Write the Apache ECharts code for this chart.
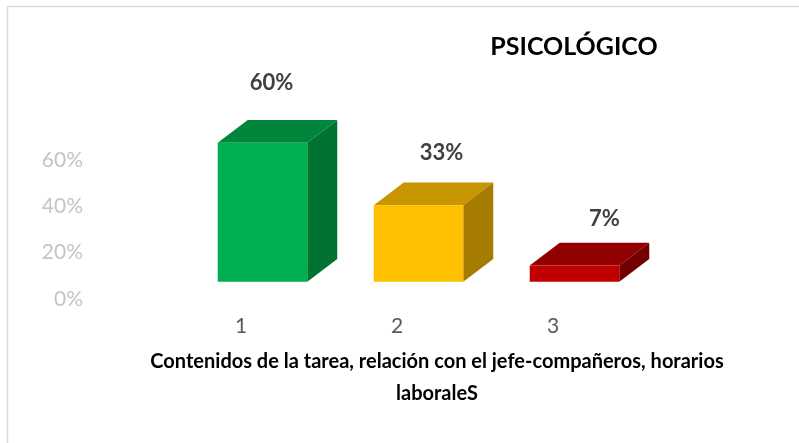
<!DOCTYPE html>
<html>
<head>
<meta charset="utf-8">
<script src="https://cdn.jsdelivr.net/npm/echarts@6/dist/echarts.min.js"></script>
<style>
html,body{margin:0;padding:0;background:#fff;}
#chart{width:799px;height:443px;}
</style>
</head>
<body>
<div id="chart"></div>
<script>
// ---- data ----
const categories = ['1', '2', '3'];
const values = [60, 33, 7];
const yTickMax = 60;
const yTickStep = 20;
const titleText = 'PSICOLÓGICO';
const xTitleLines = ['Contenidos de la tarea, relación con el jefe-compañeros, horarios', 'laboraleS'];

// ---- styles ----
const FACE_COLORS = [
  { front: '#00B050', top: '#00863C', side: '#007332' },
  { front: '#FFC000', top: '#C89600', side: '#A67C00' },
  { front: '#C00000', top: '#930000', side: '#720000' }
];
const LABEL_NUDGE = [[9, -60], [23, -52], [30, -47]];
const FONT = 'Lato, "Liberation Sans", sans-serif';
const DEPTH_X = 30, DEPTH_Y = -22.7, FRONT_DX = 21.5, FRONT_DY = -17.3, BAR_RATIO = 0.574;

const chart = echarts.init(document.getElementById('chart'), null, { renderer: 'canvas' });

function renderItem(params, api) {
  const idx = api.value(0);
  const val = api.value(1);
  const base = api.coord([idx, 0]);
  const top = api.coord([idx, val]);
  const w = api.size([1, 0])[0] * BAR_RATIO;
  const cx = base[0] + FRONT_DX;
  const x0 = cx - w / 2, x1 = cx + w / 2;
  const yT = top[1] + FRONT_DY, yB = base[1] + FRONT_DY;
  const c = FACE_COLORS[idx];
  const nudge = LABEL_NUDGE[idx];
  return {
    type: 'group',
    children: [
      { type: 'polygon', shape: { points: [[x0, yT], [x1, yT], [x1 + DEPTH_X, yT + DEPTH_Y], [x0 + DEPTH_X, yT + DEPTH_Y]] }, style: { fill: c.top } },
      { type: 'polygon', shape: { points: [[x1, yT], [x1 + DEPTH_X, yT + DEPTH_Y], [x1 + DEPTH_X, yB + DEPTH_Y], [x1, yB]] }, style: { fill: c.side } },
      { type: 'rect', shape: { x: x0, y: yT, width: w, height: yB - yT }, style: { fill: c.front } },
      { type: 'text', x: cx + nudge[0], y: yT + nudge[1], style: { text: val + '%', fill: '#404040', font: 'bold 22px ' + FONT, align: 'center', verticalAlign: 'middle' } }
    ]
  };
}

chart.setOption({
  animation: false,
  backgroundColor: '#ffffff',
  grid: { left: 163, right: 168, top: 160, bottom: 144 },
  xAxis: {
    type: 'category',
    data: categories,
    axisLine: { show: false },
    axisTick: { show: false },
    axisLabel: { color: '#595959', fontSize: 21, fontFamily: FONT, margin: 17 }
  },
  yAxis: {
    type: 'value',
    min: 0, max: yTickMax, interval: yTickStep,
    axisLine: { show: false },
    axisTick: { show: false },
    splitLine: { show: false },
    axisLabel: { color: '#c4c4c4', fontSize: 21, fontFamily: FONT, margin: 80, formatter: '{value}%' }
  },
  series: [{
    type: 'custom',
    renderItem: renderItem,
    clip: false,
    data: values.map((v, i) => [i, v])
  }],
  graphic: [
    { type: 'line', shape: { x1: 7.5, y1: 6.5, x2: 799, y2: 6.5 }, style: { stroke: '#d9d9d9', lineWidth: 1.5 } },
    { type: 'line', shape: { x1: 7.5, y1: 6.5, x2: 7.5, y2: 443 }, style: { stroke: '#d9d9d9', lineWidth: 1.5 } },
    { type: 'text', x: 574, y: 47, style: { text: titleText, fill: '#000', font: 'bold 25px ' + FONT, align: 'center', verticalAlign: 'middle' } },
    { type: 'text', x: 437, y: 362, style: { text: xTitleLines[0], fill: '#000', font: 'bold 20px ' + FONT, align: 'center', verticalAlign: 'middle' } },
    { type: 'text', x: 437, y: 394, style: { text: xTitleLines[1], fill: '#000', font: 'bold 20px ' + FONT, align: 'center', verticalAlign: 'middle' } }
  ]
});
</script>
</body>
</html>
